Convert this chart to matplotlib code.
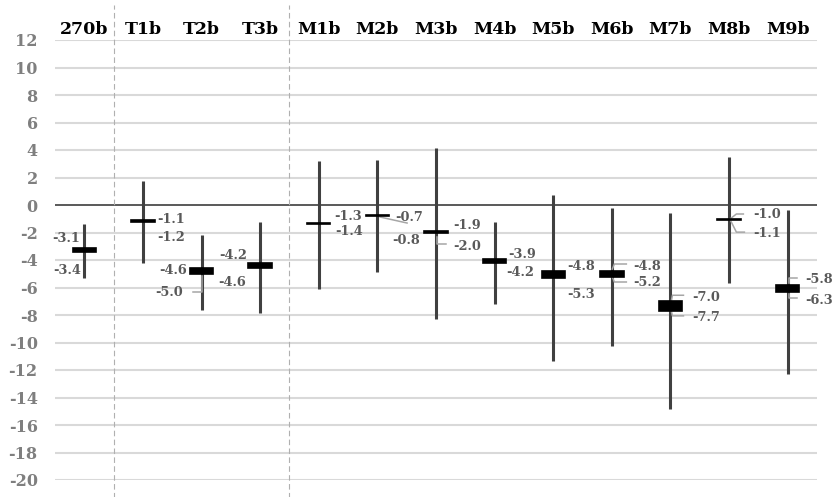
import matplotlib
matplotlib.use("Agg")
import matplotlib.pyplot as plt
from matplotlib.patches import Rectangle
from matplotlib.transforms import Affine2D, ScaledTranslation, blended_transform_factory

# donnees
categories = ["270b", "T1b", "T2b", "T3b", "M1b", "M2b", "M3b", "M4b",
              "M5b", "M6b", "M7b", "M8b", "M9b"]
haut = [-1.4, 1.75, -2.2, -1.2, 3.2, 3.25, 4.15, -1.2, 0.75, -0.2, -0.6, 3.5, -0.35]
bas = [-5.3, -4.2, -7.6, -7.85, -6.1, -4.85, -8.3, -7.2, -11.35, -10.25, -14.8, -5.7, -12.3]
boite_haut = [-3.1, -1.1, -4.6, -4.2, -1.3, -0.7, -1.9, -3.9, -4.8, -4.8, -7.0, -1.0, -5.8]
boite_bas = [-3.4, -1.2, -5.0, -4.6, -1.4, -0.8, -2.0, -4.2, -5.3, -5.2, -7.7, -1.1, -6.3]
separations = [0.5, 3.5]
graduations = list(range(-20, 13, 2))

# placement des etiquettes (decalage en pixels, y vers le bas)
ETIQ_HAUT = [(-4, -9, "right"), (14, -1, "left"), (-15, 2, "right"), (-13, -7, "right"),
             (15, -6.5, "left"), (18, 3, "left"), (17, -6, "left"), (13.5, -4.5, "left"),
             (14, -4, "left"), (21.5, -4, "left"), (22, -4, "left"), (24, -4, "left"),
             (18, -5, "left")]
ETIQ_BAS = [(-3, 19, "right"), (14, 16, "left"), (-18.5, 19, "right"), (-14, 14, "right"),
            (16, 7.5, "left"), (15, 25, "left"), (17, 13.5, "left"), (11.5, 10, "left"),
            (14, 17, "left"), (21.5, 6.5, "left"), (22, 7, "left"), (24, 13, "left"),
            (18, 8.5, "left")]
# traits de rappel gris : (categorie, valeur, points en pixels)
RAPPELS = [
    (2, -5.0, [(0, 2), (0, 18), (-8.5, 18)]),
    (5, -0.7, [(2.7, 2.4), (29.7, 8.4)]),
    (6, -2.0, [(1.2, 4.5), (1.2, 11.5), (10.2, 11.5)]),
    (9, -4.8, [(0.5, -2), (2.5, -7), (14.5, -7)]),
    (9, -5.2, [(0.5, 0.5), (2.5, 5.5), (14.5, 5.5)]),
    (10, -7.0, [(1, -1), (2, -6), (13, -6)]),
    (10, -7.7, [(1, 1), (2, 5), (13, 5)]),
    (11, -1.0, [(1.3, 0), (7.3, -4.75), (14.3, -4.75)]),
    (11, -1.1, [(1.3, 0), (7.3, 12), (15.3, 12)]),
    (12, -5.8, [(1.7, -2), (1.7, -6.75), (9.7, -6.75)]),
    (12, -6.3, [(1.7, 2), (1.7, 6.4), (9.7, 6.4)]),
]

POLICE = "DejaVu Serif"
GRILLE = "#d9d9d9"
ENCRE = "#595959"

fig = plt.figure(figsize=(8.35, 4.97), dpi=100)
ax = fig.add_axes([55 / 835, 17 / 497, 762 / 835, 440 / 497])
ax.set_xlim(-0.5, len(categories) - 0.5)
ax.set_ylim(-20, 12)
for s in ax.spines.values():
    s.set_visible(False)
ax.set_xticks([])
ax.set_yticks(graduations)
ax.set_yticklabels([str(t) for t in graduations], family=POLICE,
                   fontweight="bold", fontsize=11.5, color="#7f7f7f")
ax.tick_params(axis="y", length=0, pad=12.5)
for t in graduations:
    if t != 0:
        ax.axhline(t, color=GRILLE, lw=1.5, zorder=0)
ax.axhline(0, color=ENCRE, lw=1.4, zorder=1)

melange = blended_transform_factory(ax.transData, ax.transAxes)
for x in separations:
    ax.plot([x, x], [-0.04, 1.08], transform=melange, clip_on=False,
            color="#b0b0b0", lw=0.8, dashes=(5, 3), zorder=1)

for i, nom in enumerate(categories):
    ax.text(i, 1.025, nom, transform=melange, ha="center", va="center",
            family=POLICE, fontweight="bold", fontsize=12.5, color="black")
    ax.plot([i, i], [bas[i], haut[i]], color="#404040", lw=2.2,
            solid_capstyle="butt", zorder=2)
    ax.add_patch(Rectangle((i - 0.2, boite_bas[i]), 0.4,
                           boite_haut[i] - boite_bas[i], facecolor="black",
                           edgecolor="black", lw=1.2, zorder=4))
    for v, (dx, dy, ha) in ((boite_haut[i], ETIQ_HAUT[i]), (boite_bas[i], ETIQ_BAS[i])):
        ax.annotate(f"{v:.1f}", (i, v), xytext=(dx, -dy), textcoords="offset pixels",
                    ha=ha, va="center", family=POLICE, fontweight="bold",
                    fontsize=9.3, color=ENCRE, zorder=5)

px = Affine2D().scale(1 / 100, -1 / 100) + fig.dpi_scale_trans
for i, v, pts in RAPPELS:
    trans = px + ScaledTranslation(i, v, ax.transData)
    ax.plot([p[0] for p in pts], [p[1] for p in pts], transform=trans,
            color="#a6a6a6", lw=1.1, clip_on=False, zorder=3)

fig.savefig("out.png", dpi=100)
